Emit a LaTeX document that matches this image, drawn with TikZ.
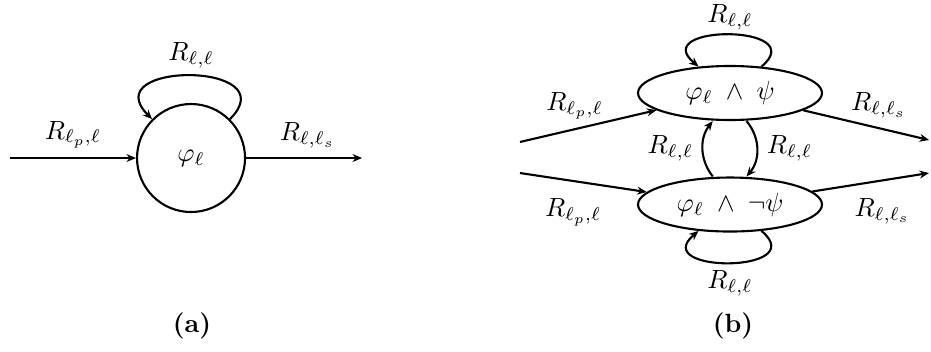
\documentclass[tikz,border=0pt]{standalone}
\usepackage{tikz}
\usepackage{amsmath,amssymb}
\usetikzlibrary{calc,arrows.meta,positioning,shapes.geometric}
\tikzset{
  cstate/.style={circle,draw,thick,minimum size=1.44cm,inner sep=0pt},
  estate/.style={ellipse,draw,thick,minimum width=2.453cm,minimum height=0.72cm,inner sep=0pt},
  trans/.style={thick,-{Stealth[length=3.6pt,width=3pt]}},
}

\begin{document}
\begin{tikzpicture}
\useasboundingbox (0,0) rectangle (12.413,4.68);
% (a)
\node[cstate] (phi) at (2.547,2.573) {$\varphi_\ell$};
\coordinate (ain) at (0.133,2.573);
\coordinate (aout) at (4.827,2.573);
\draw[trans] (ain) -- node[above,pos=.5] {$R_{\ell_p,\ell}$} (phi);
\draw[trans] (phi) -- node[above,pos=.53] {$R_{\ell,\ell_s}$} (aout);
\draw[trans] (phi) to[out=45,in=135,looseness=2.7] node[above=-1pt] {$R_{\ell,\ell}$} (phi);
\node (capa) at (2.56,0.333) {\textbf{(a)}};
% (b)
\node[estate] (up) at (9.733,3.44) {$\varphi_\ell\;\wedge\;\psi$};
\node[estate] (dn) at (9.733,1.953) {$\varphi_\ell\;\wedge\;\neg\psi$};
\coordinate (bin1) at (6.933,2.787);
\coordinate (bin2) at (6.933,2.373);
\coordinate (bout1) at (12.387,2.813);
\coordinate (bout2) at (12.387,2.373);
\draw[trans] (bin1) -- node[above,pos=.4] {$R_{\ell_p,\ell}$} (up);
\draw[trans] (bin2) -- node[below=3pt,pos=.42] {$R_{\ell_p,\ell}$} (dn);
\draw[trans] (up) -- node[above,pos=.6] {$R_{\ell,\ell_s}$} (bout1);
\draw[trans] (dn) -- node[below=3pt,pos=.6] {$R_{\ell,\ell_s}$} (bout2);
\draw[trans] (up) to[out=40,in=140,looseness=2.7] node[above=-2pt] {$R_{\ell,\ell}$} (up);
\draw[trans] (dn) to[out=-40,in=-140,looseness=2.7] node[below=-1pt] {$R_{\ell,\ell}$} (dn);
\draw[trans] ([xshift=-0.23cm]dn.north) to[bend left=38] node[left] {$R_{\ell,\ell}$} ([xshift=-0.23cm]up.south);
\draw[trans] ([xshift=0.22cm]up.south) to[bend left=40] node[right] {$R_{\ell,\ell}$} ([xshift=0.22cm]dn.north);
\node (capb) at (9.773,0.333) {\textbf{(b)}};
\end{tikzpicture}
\end{document}
